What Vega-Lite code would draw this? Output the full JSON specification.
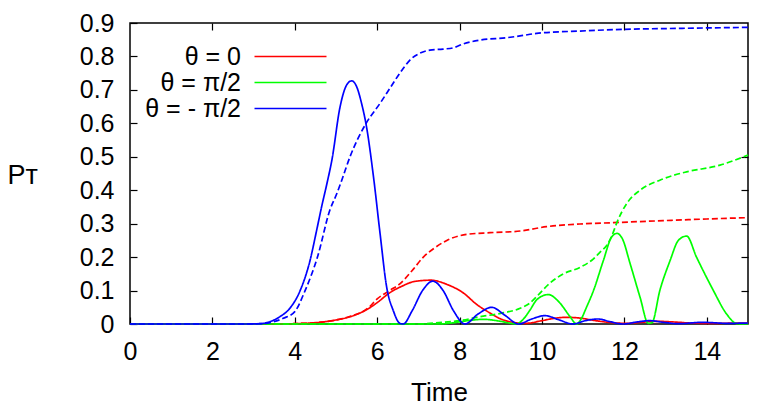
{
  "$schema": "https://vega.github.io/schema/vega-lite/v6.json",
  "width": 618,
  "height": 301,
  "autosize": "none",
  "padding": {"left": 130, "top": 23, "right": 12, "bottom": 85},
  "background": "white",
  "config": {
    "font": "Liberation Sans",
    "view": {"stroke": "black", "strokeWidth": 1.5},
    "axis": {
      "grid": false,
      "domain": false,
      "tickColor": "black",
      "tickWidth": 1.2,
      "tickSize": -7,
      "labelColor": "black",
      "labelFont": "Liberation Sans",
      "labelFontSize": 25,
      "titleFont": "Liberation Sans",
      "titleColor": "black",
      "titleFontWeight": "normal"
    }
  },
  "data": {
    "values": [
      {"t": 0, "theta": "θ = 0", "kind": "P", "p": 0},
      {"t": 2, "theta": "θ = 0", "kind": "P", "p": 0},
      {"t": 3.5, "theta": "θ = 0", "kind": "P", "p": 0},
      {"t": 4, "theta": "θ = 0", "kind": "P", "p": 0.001},
      {"t": 4.6, "theta": "θ = 0", "kind": "P", "p": 0.005},
      {"t": 5, "theta": "θ = 0", "kind": "P", "p": 0.012},
      {"t": 5.35, "theta": "θ = 0", "kind": "P", "p": 0.022},
      {"t": 5.8, "theta": "θ = 0", "kind": "P", "p": 0.047},
      {"t": 6, "theta": "θ = 0", "kind": "P", "p": 0.064},
      {"t": 6.3, "theta": "θ = 0", "kind": "P", "p": 0.093},
      {"t": 6.6, "theta": "θ = 0", "kind": "P", "p": 0.113},
      {"t": 6.9, "theta": "θ = 0", "kind": "P", "p": 0.127},
      {"t": 7.3, "theta": "θ = 0", "kind": "P", "p": 0.131},
      {"t": 7.7, "theta": "θ = 0", "kind": "P", "p": 0.118},
      {"t": 8.1, "theta": "θ = 0", "kind": "P", "p": 0.092},
      {"t": 8.4, "theta": "θ = 0", "kind": "P", "p": 0.06},
      {"t": 8.75, "theta": "θ = 0", "kind": "P", "p": 0.032},
      {"t": 9, "theta": "θ = 0", "kind": "P", "p": 0.015},
      {"t": 9.3, "theta": "θ = 0", "kind": "P", "p": 0.005},
      {"t": 9.6, "theta": "θ = 0", "kind": "P", "p": 0.002},
      {"t": 10, "theta": "θ = 0", "kind": "P", "p": 0.01},
      {"t": 10.3, "theta": "θ = 0", "kind": "P", "p": 0.017},
      {"t": 10.6, "theta": "θ = 0", "kind": "P", "p": 0.02},
      {"t": 10.9, "theta": "θ = 0", "kind": "P", "p": 0.018},
      {"t": 11.3, "theta": "θ = 0", "kind": "P", "p": 0.01},
      {"t": 11.7, "theta": "θ = 0", "kind": "P", "p": 0.004},
      {"t": 12.05, "theta": "θ = 0", "kind": "P", "p": 0.002},
      {"t": 12.4, "theta": "θ = 0", "kind": "P", "p": 0.005},
      {"t": 12.8, "theta": "θ = 0", "kind": "P", "p": 0.008},
      {"t": 13.2, "theta": "θ = 0", "kind": "P", "p": 0.006},
      {"t": 13.6, "theta": "θ = 0", "kind": "P", "p": 0.003},
      {"t": 14, "theta": "θ = 0", "kind": "P", "p": 0.002},
      {"t": 15, "theta": "θ = 0", "kind": "P", "p": 0.003},

      {"t": 0, "theta": "θ = 0", "kind": "cumulative", "p": 0},
      {"t": 3.5, "theta": "θ = 0", "kind": "cumulative", "p": 0},
      {"t": 4, "theta": "θ = 0", "kind": "cumulative", "p": 0.001},
      {"t": 4.6, "theta": "θ = 0", "kind": "cumulative", "p": 0.005},
      {"t": 5, "theta": "θ = 0", "kind": "cumulative", "p": 0.012},
      {"t": 5.35, "theta": "θ = 0", "kind": "cumulative", "p": 0.023},
      {"t": 5.8, "theta": "θ = 0", "kind": "cumulative", "p": 0.05},
      {"t": 6, "theta": "θ = 0", "kind": "cumulative", "p": 0.075},
      {"t": 6.3, "theta": "θ = 0", "kind": "cumulative", "p": 0.1},
      {"t": 6.55, "theta": "θ = 0", "kind": "cumulative", "p": 0.12},
      {"t": 6.85, "theta": "θ = 0", "kind": "cumulative", "p": 0.16},
      {"t": 7.12, "theta": "θ = 0", "kind": "cumulative", "p": 0.2},
      {"t": 7.4, "theta": "θ = 0", "kind": "cumulative", "p": 0.228},
      {"t": 7.69, "theta": "θ = 0", "kind": "cumulative", "p": 0.25},
      {"t": 8.17, "theta": "θ = 0", "kind": "cumulative", "p": 0.268},
      {"t": 8.74, "theta": "θ = 0", "kind": "cumulative", "p": 0.273},
      {"t": 9.47, "theta": "θ = 0", "kind": "cumulative", "p": 0.278},
      {"t": 10.11, "theta": "θ = 0", "kind": "cumulative", "p": 0.291},
      {"t": 10.92, "theta": "θ = 0", "kind": "cumulative", "p": 0.299},
      {"t": 11.73, "theta": "θ = 0", "kind": "cumulative", "p": 0.303},
      {"t": 12.94, "theta": "θ = 0", "kind": "cumulative", "p": 0.309},
      {"t": 14, "theta": "θ = 0", "kind": "cumulative", "p": 0.314},
      {"t": 15, "theta": "θ = 0", "kind": "cumulative", "p": 0.318},

      {"t": 0, "theta": "θ = π/2", "kind": "P", "p": 0},
      {"t": 7.5, "theta": "θ = π/2", "kind": "P", "p": 0},
      {"t": 7.8, "theta": "θ = π/2", "kind": "P", "p": 0.003},
      {"t": 8.2, "theta": "θ = π/2", "kind": "P", "p": 0.01},
      {"t": 8.57, "theta": "θ = π/2", "kind": "P", "p": 0.014},
      {"t": 8.9, "theta": "θ = π/2", "kind": "P", "p": 0.01},
      {"t": 9.2, "theta": "θ = π/2", "kind": "P", "p": 0.003},
      {"t": 9.37, "theta": "θ = π/2", "kind": "P", "p": 0},
      {"t": 9.55, "theta": "θ = π/2", "kind": "P", "p": 0.015},
      {"t": 9.71, "theta": "θ = π/2", "kind": "P", "p": 0.042},
      {"t": 9.87, "theta": "θ = π/2", "kind": "P", "p": 0.072},
      {"t": 10.15, "theta": "θ = π/2", "kind": "P", "p": 0.088},
      {"t": 10.44, "theta": "θ = π/2", "kind": "P", "p": 0.062},
      {"t": 10.68, "theta": "θ = π/2", "kind": "P", "p": 0.022},
      {"t": 10.84, "theta": "θ = π/2", "kind": "P", "p": 0},
      {"t": 10.95, "theta": "θ = π/2", "kind": "P", "p": 0.015},
      {"t": 11.08, "theta": "θ = π/2", "kind": "P", "p": 0.05},
      {"t": 11.25, "theta": "θ = π/2", "kind": "P", "p": 0.1},
      {"t": 11.49, "theta": "θ = π/2", "kind": "P", "p": 0.19},
      {"t": 11.69, "theta": "θ = π/2", "kind": "P", "p": 0.26},
      {"t": 11.82, "theta": "θ = π/2", "kind": "P", "p": 0.271},
      {"t": 11.95, "theta": "θ = π/2", "kind": "P", "p": 0.255},
      {"t": 12.14, "theta": "θ = π/2", "kind": "P", "p": 0.18},
      {"t": 12.38, "theta": "θ = π/2", "kind": "P", "p": 0.08},
      {"t": 12.58, "theta": "θ = π/2", "kind": "P", "p": 0.002},
      {"t": 12.67, "theta": "θ = π/2", "kind": "P", "p": 0.004},
      {"t": 12.86, "theta": "θ = π/2", "kind": "P", "p": 0.1},
      {"t": 13.11, "theta": "θ = π/2", "kind": "P", "p": 0.19},
      {"t": 13.31, "theta": "θ = π/2", "kind": "P", "p": 0.25},
      {"t": 13.51, "theta": "θ = π/2", "kind": "P", "p": 0.263},
      {"t": 13.75, "theta": "θ = π/2", "kind": "P", "p": 0.2},
      {"t": 13.95, "theta": "θ = π/2", "kind": "P", "p": 0.15},
      {"t": 14.16, "theta": "θ = π/2", "kind": "P", "p": 0.1},
      {"t": 14.48, "theta": "θ = π/2", "kind": "P", "p": 0.03},
      {"t": 14.73, "theta": "θ = π/2", "kind": "P", "p": 0.001},
      {"t": 15, "theta": "θ = π/2", "kind": "P", "p": 0},

      {"t": 0, "theta": "θ = π/2", "kind": "cumulative", "p": 0},
      {"t": 7, "theta": "θ = π/2", "kind": "cumulative", "p": 0},
      {"t": 7.5, "theta": "θ = π/2", "kind": "cumulative", "p": 0.004},
      {"t": 8, "theta": "θ = π/2", "kind": "cumulative", "p": 0.01},
      {"t": 8.5, "theta": "θ = π/2", "kind": "cumulative", "p": 0.022},
      {"t": 9, "theta": "θ = π/2", "kind": "cumulative", "p": 0.032},
      {"t": 9.47, "theta": "θ = π/2", "kind": "cumulative", "p": 0.047},
      {"t": 9.7, "theta": "θ = π/2", "kind": "cumulative", "p": 0.062},
      {"t": 9.87, "theta": "θ = π/2", "kind": "cumulative", "p": 0.082},
      {"t": 10.19, "theta": "θ = π/2", "kind": "cumulative", "p": 0.122},
      {"t": 10.52, "theta": "θ = π/2", "kind": "cumulative", "p": 0.15},
      {"t": 10.92, "theta": "θ = π/2", "kind": "cumulative", "p": 0.169},
      {"t": 11.25, "theta": "θ = π/2", "kind": "cumulative", "p": 0.195},
      {"t": 11.41, "theta": "θ = π/2", "kind": "cumulative", "p": 0.215},
      {"t": 11.57, "theta": "θ = π/2", "kind": "cumulative", "p": 0.235},
      {"t": 11.7, "theta": "θ = π/2", "kind": "cumulative", "p": 0.265},
      {"t": 11.81, "theta": "θ = π/2", "kind": "cumulative", "p": 0.301},
      {"t": 12.06, "theta": "θ = π/2", "kind": "cumulative", "p": 0.361},
      {"t": 12.38, "theta": "θ = π/2", "kind": "cumulative", "p": 0.4},
      {"t": 12.86, "theta": "θ = π/2", "kind": "cumulative", "p": 0.43},
      {"t": 13.2, "theta": "θ = π/2", "kind": "cumulative", "p": 0.445},
      {"t": 13.51, "theta": "θ = π/2", "kind": "cumulative", "p": 0.455},
      {"t": 14.32, "theta": "θ = π/2", "kind": "cumulative", "p": 0.475},
      {"t": 15, "theta": "θ = π/2", "kind": "cumulative", "p": 0.505},

      {"t": 0, "theta": "θ = - π/2", "kind": "P", "p": 0},
      {"t": 2.8, "theta": "θ = - π/2", "kind": "P", "p": 0},
      {"t": 3.16, "theta": "θ = - π/2", "kind": "P", "p": 0.001},
      {"t": 3.4, "theta": "θ = - π/2", "kind": "P", "p": 0.007},
      {"t": 3.64, "theta": "θ = - π/2", "kind": "P", "p": 0.022},
      {"t": 3.88, "theta": "θ = - π/2", "kind": "P", "p": 0.047},
      {"t": 4.13, "theta": "θ = - π/2", "kind": "P", "p": 0.1},
      {"t": 4.37, "theta": "θ = - π/2", "kind": "P", "p": 0.19},
      {"t": 4.53, "theta": "θ = - π/2", "kind": "P", "p": 0.28},
      {"t": 4.65, "theta": "θ = - π/2", "kind": "P", "p": 0.35},
      {"t": 4.78, "theta": "θ = - π/2", "kind": "P", "p": 0.42},
      {"t": 4.9, "theta": "θ = - π/2", "kind": "P", "p": 0.49},
      {"t": 5.1, "theta": "θ = - π/2", "kind": "P", "p": 0.65},
      {"t": 5.26, "theta": "θ = - π/2", "kind": "P", "p": 0.715},
      {"t": 5.38, "theta": "θ = - π/2", "kind": "P", "p": 0.727},
      {"t": 5.5, "theta": "θ = - π/2", "kind": "P", "p": 0.71},
      {"t": 5.62, "theta": "θ = - π/2", "kind": "P", "p": 0.66},
      {"t": 5.74, "theta": "θ = - π/2", "kind": "P", "p": 0.59},
      {"t": 5.91, "theta": "θ = - π/2", "kind": "P", "p": 0.44},
      {"t": 6.07, "theta": "θ = - π/2", "kind": "P", "p": 0.27},
      {"t": 6.23, "theta": "θ = - π/2", "kind": "P", "p": 0.11},
      {"t": 6.39, "theta": "θ = - π/2", "kind": "P", "p": 0.04},
      {"t": 6.55, "theta": "θ = - π/2", "kind": "P", "p": 0.002},
      {"t": 6.63, "theta": "θ = - π/2", "kind": "P", "p": 0},
      {"t": 6.85, "theta": "θ = - π/2", "kind": "P", "p": 0.04},
      {"t": 7.1, "theta": "θ = - π/2", "kind": "P", "p": 0.1},
      {"t": 7.35, "theta": "θ = - π/2", "kind": "P", "p": 0.128},
      {"t": 7.6, "theta": "θ = - π/2", "kind": "P", "p": 0.1},
      {"t": 7.85, "theta": "θ = - π/2", "kind": "P", "p": 0.04},
      {"t": 8.13, "theta": "θ = - π/2", "kind": "P", "p": 0},
      {"t": 8.45, "theta": "θ = - π/2", "kind": "P", "p": 0.03},
      {"t": 8.78, "theta": "θ = - π/2", "kind": "P", "p": 0.05},
      {"t": 9.1, "theta": "θ = - π/2", "kind": "P", "p": 0.026},
      {"t": 9.43, "theta": "θ = - π/2", "kind": "P", "p": 0},
      {"t": 9.75, "theta": "θ = - π/2", "kind": "P", "p": 0.015},
      {"t": 10.07, "theta": "θ = - π/2", "kind": "P", "p": 0.025},
      {"t": 10.4, "theta": "θ = - π/2", "kind": "P", "p": 0.013},
      {"t": 10.75, "theta": "θ = - π/2", "kind": "P", "p": 0},
      {"t": 11.05, "theta": "θ = - π/2", "kind": "P", "p": 0.01},
      {"t": 11.36, "theta": "θ = - π/2", "kind": "P", "p": 0.015},
      {"t": 11.65, "theta": "θ = - π/2", "kind": "P", "p": 0.007},
      {"t": 11.97, "theta": "θ = - π/2", "kind": "P", "p": 0},
      {"t": 12.3, "theta": "θ = - π/2", "kind": "P", "p": 0.006},
      {"t": 12.62, "theta": "θ = - π/2", "kind": "P", "p": 0.01},
      {"t": 12.95, "theta": "θ = - π/2", "kind": "P", "p": 0.005},
      {"t": 13.3, "theta": "θ = - π/2", "kind": "P", "p": 0.001},
      {"t": 13.9, "theta": "θ = - π/2", "kind": "P", "p": 0.005},
      {"t": 14.5, "theta": "θ = - π/2", "kind": "P", "p": 0.002},
      {"t": 15, "theta": "θ = - π/2", "kind": "P", "p": 0.003},

      {"t": 0, "theta": "θ = - π/2", "kind": "cumulative", "p": 0},
      {"t": 2.8, "theta": "θ = - π/2", "kind": "cumulative", "p": 0},
      {"t": 3.2, "theta": "θ = - π/2", "kind": "cumulative", "p": 0.001},
      {"t": 3.4, "theta": "θ = - π/2", "kind": "cumulative", "p": 0.004},
      {"t": 3.72, "theta": "θ = - π/2", "kind": "cumulative", "p": 0.017},
      {"t": 4, "theta": "θ = - π/2", "kind": "cumulative", "p": 0.037},
      {"t": 4.25, "theta": "θ = - π/2", "kind": "cumulative", "p": 0.1},
      {"t": 4.55, "theta": "θ = - π/2", "kind": "cumulative", "p": 0.2},
      {"t": 4.85, "theta": "θ = - π/2", "kind": "cumulative", "p": 0.34},
      {"t": 5.02, "theta": "θ = - π/2", "kind": "cumulative", "p": 0.39},
      {"t": 5.14, "theta": "θ = - π/2", "kind": "cumulative", "p": 0.43},
      {"t": 5.34, "theta": "θ = - π/2", "kind": "cumulative", "p": 0.5},
      {"t": 5.73, "theta": "θ = - π/2", "kind": "cumulative", "p": 0.6},
      {"t": 6.07, "theta": "θ = - π/2", "kind": "cumulative", "p": 0.66},
      {"t": 6.23, "theta": "θ = - π/2", "kind": "cumulative", "p": 0.69},
      {"t": 6.55, "theta": "θ = - π/2", "kind": "cumulative", "p": 0.75},
      {"t": 6.8, "theta": "θ = - π/2", "kind": "cumulative", "p": 0.79},
      {"t": 7.04, "theta": "θ = - π/2", "kind": "cumulative", "p": 0.81},
      {"t": 7.28, "theta": "θ = - π/2", "kind": "cumulative", "p": 0.819},
      {"t": 7.6, "theta": "θ = - π/2", "kind": "cumulative", "p": 0.822},
      {"t": 7.85, "theta": "θ = - π/2", "kind": "cumulative", "p": 0.826},
      {"t": 8.1, "theta": "θ = - π/2", "kind": "cumulative", "p": 0.838},
      {"t": 8.5, "theta": "θ = - π/2", "kind": "cumulative", "p": 0.849},
      {"t": 9.14, "theta": "θ = - π/2", "kind": "cumulative", "p": 0.856},
      {"t": 9.5, "theta": "θ = - π/2", "kind": "cumulative", "p": 0.862},
      {"t": 9.87, "theta": "θ = - π/2", "kind": "cumulative", "p": 0.869},
      {"t": 10.92, "theta": "θ = - π/2", "kind": "cumulative", "p": 0.876},
      {"t": 11.97, "theta": "θ = - π/2", "kind": "cumulative", "p": 0.881},
      {"t": 13.35, "theta": "θ = - π/2", "kind": "cumulative", "p": 0.884},
      {"t": 15, "theta": "θ = - π/2", "kind": "cumulative", "p": 0.887}
    ]
  },
  "layer": [
    {
      "mark": {"type": "line", "interpolate": "monotone", "strokeWidth": 1.7},
      "encoding": {
        "x": {
          "field": "t",
          "type": "quantitative",
          "scale": {"domain": [0, 15], "nice": false},
          "axis": {
            "title": "Time",
            "titleFontSize": 26,
            "titleY": 76,
            "titleBaseline": "alphabetic",
            "values": [0, 2, 4, 6, 8, 10, 12, 14],
            "labelBaseline": "alphabetic",
            "labelPadding": 42,
            "labelFlush": false
          }
        },
        "y": {
          "field": "p",
          "type": "quantitative",
          "scale": {"domain": [0, 0.9], "nice": false},
          "axis": {
            "title": "Pᴛ",
            "titleAngle": 0,
            "titleFontSize": 27,
            "titleAlign": "left",
            "titleBaseline": "alphabetic",
            "titleX": -123,
            "titleY": 160,
            "values": [0, 0.1, 0.2, 0.3, 0.4, 0.5, 0.6, 0.7, 0.8, 0.9],
            "format": ".1~f",
            "labelPadding": 23,
            "labelFlush": false
          }
        },
        "color": {
          "field": "theta",
          "type": "nominal",
          "scale": {
            "domain": ["θ = 0", "θ = π/2", "θ = - π/2"],
            "range": ["#ff0000", "#00ff00", "#0000ff"]
          },
          "legend": {
            "title": null,
            "orient": "none",
            "legendX": 148,
            "legendY": 21,
            "padding": 0,
            "symbolType": "M-12,0H12",
            "symbolSize": 36,
            "symbolStrokeWidth": 1.7,
            "symbolDash": [1, 0],
            "rowPadding": -1,
            "labelFontSize": 25,
            "labelFont": "Liberation Sans",
            "labelColor": "black",
            "labelAlign": "right",
            "labelOffset": -62,
            "labelLimit": 400
          }
        },
        "strokeDash": {
          "field": "kind",
          "type": "nominal",
          "scale": {"domain": ["P", "cumulative"], "range": [[1, 0], [6, 3]]},
          "legend": null
        }
      }
    },
    {
      "mark": {"type": "point", "opacity": 0},
      "encoding": {
        "x": {
          "field": "t",
          "type": "quantitative",
          "axis": {"orient": "top", "title": null, "labels": false, "values": [2, 4, 6, 8, 10, 12, 14]}
        },
        "y": {
          "field": "p",
          "type": "quantitative",
          "axis": {"orient": "right", "title": null, "labels": false, "values": [0.1, 0.2, 0.3, 0.4, 0.5, 0.6, 0.7, 0.8]}
        }
      }
    }
  ],
  "resolve": {"axis": {"x": "independent", "y": "independent"}}
}
